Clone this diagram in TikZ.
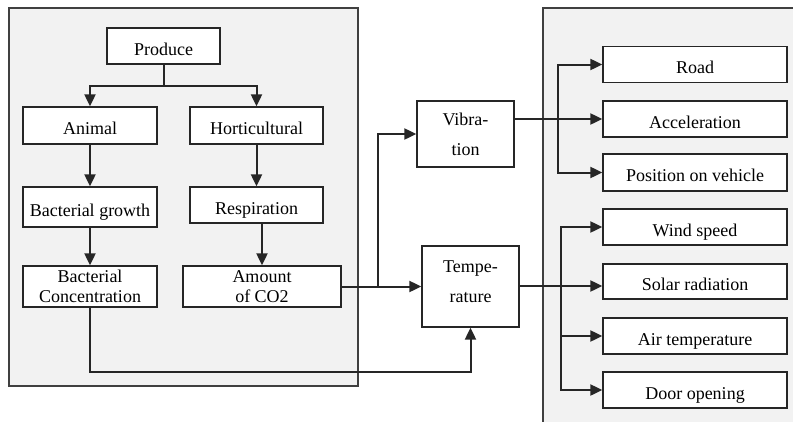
\documentclass[tikz,border=0pt]{standalone}
\usepackage{fontspec}
\setmainfont{Liberation Serif}
\usetikzlibrary{arrows.meta}
\definecolor{panelgray}{HTML}{F2F2F2}
\definecolor{edgegray}{HTML}{404040}
\begin{document}
\begin{tikzpicture}[x=1pt,y=-1pt,
  boxbase/.style={draw=black!85, line width=1.3pt, fill=white, inner sep=0pt, align=center,
    font=\fontsize{18}{20}\selectfont},
  box/.style={boxbase, text height=18pt, text depth=0pt},
  mbox/.style={boxbase},
  tallbox/.style={boxbase, font=\fontsize{18}{30}\selectfont},
  panel/.style={draw=edgegray, line width=1.2pt, fill=panelgray},
  conn/.style={line width=2pt, black!85},
  arr/.style={conn, -{Triangle[length=12pt,width=11pt]}}]
\useasboundingbox (0,0) rectangle (793,421);
% panels
\path[panel] (9,8) rectangle (358,386);
\path[panel] (543,8) rectangle (800,430);
% left boxes
\node[box, minimum width=113pt, minimum height=36pt] (produce) at (163.5,46) {Produce};
\node[box, minimum width=134pt, minimum height=37pt] (animal) at (90,125.5) {Animal};
\node[box, minimum width=133pt, minimum height=37pt] (hort) at (256.5,125.5) {Horticultural};
\node[box, minimum width=134pt, minimum height=40pt] (bgrowth) at (90,207) {Bacterial growth};
\node[box, minimum width=133pt, minimum height=36pt] (resp) at (256.5,205) {Respiration};
\node[mbox, minimum width=134pt, minimum height=41pt] (bconc) at (90,286.5) {Bacterial\\Concentration};
\node[mbox, minimum width=158pt, minimum height=41pt] (co2) at (262,286.5) {Amount\\of CO2};
% middle boxes
\node[tallbox, minimum width=97pt, minimum height=66pt] (vib) at (465.5,134) {Vibra-\\tion};
\node[tallbox, minimum width=97pt, minimum height=81pt] (temp) at (470.5,286.5) {};
\node[tallbox, draw=none, fill=none, yshift=5pt] (templabel) at (temp.center) {Tempe-\\rature};
% right boxes
\node[box, minimum width=184pt, minimum height=36pt] (road) at (695,64.5) {Road};
\node[box, minimum width=184pt, minimum height=36pt] (acc) at (695,119) {Acceleration};
\node[box, minimum width=184pt, minimum height=37pt] (pos) at (695,172.5) {Position on vehicle};
\node[box, minimum width=184pt, minimum height=36pt] (wind) at (695,227) {Wind speed};
\node[box, minimum width=184pt, minimum height=35pt] (solar) at (695,281.5) {Solar radiation};
\node[box, minimum width=184pt, minimum height=36pt] (air) at (695,336) {Air temperature};
\node[box, minimum width=184pt, minimum height=36pt] (door) at (695,390) {Door opening};
% coordinates
\coordinate (pj) at (163.5,86);
\coordinate (cj) at (378,286.5);
\coordinate (bj) at (90,372);
\coordinate (vj) at (558,119);
\coordinate (tj) at (561,286);
% left tree
\draw[conn] (produce.south) -- (pj);
\draw[arr] (pj) -| (animal.north);
\draw[arr] (pj) -| (hort.north);
\draw[arr] (animal) -- (bgrowth);
\draw[arr] (hort) -- (resp);
\draw[arr] (bgrowth) -- (bconc);
\draw[arr] (resp.south -| co2.north) -- (co2.north);
% to middle
\draw[arr] (co2.east) -- (temp.west);
\draw[arr] (cj) |- (vib.west);
\draw[arr] (bconc.south) -- (bj) -| (temp.south);
% to right
\draw[conn] (vib.east |- vj) -- (vj);
\draw[arr] (vj) |- (road.west);
\draw[arr] (vj) -- (acc.west);
\draw[arr] (vj) |- (pos.west);
\draw[conn] (temp.east |- tj) -- (tj);
\draw[arr] (tj) |- (wind.west);
\draw[arr] (tj) -- (tj -| solar.west);
\draw[arr] (tj) |- (air.west);
\draw[arr] (tj) |- (door.west);
\end{tikzpicture}
\end{document}
